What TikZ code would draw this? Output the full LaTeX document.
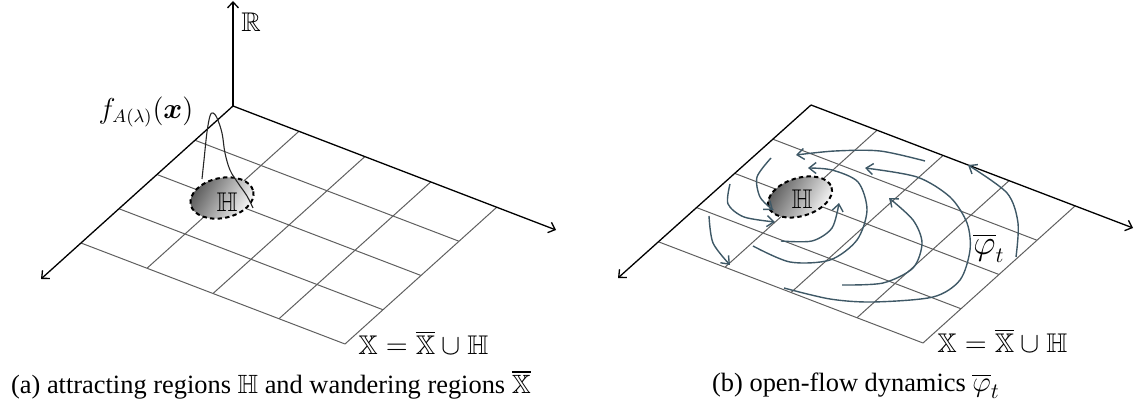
\documentclass[tikz,border=0pt]{standalone}
\usepackage{amsmath,amssymb,bm}
\usepackage{fontspec}
\setmainfont{Liberation Serif}
\usetikzlibrary{arrows.meta,calc}
\definecolor{flowc}{RGB}{62,88,102}
\definecolor{gridc}{RGB}{95,95,95}
\begin{document}
\begin{tikzpicture}[x=0.5pt,y=-0.5pt,
  axisline/.style={draw=black, line width=0.65pt, -{Straight Barb[length=3pt,width=5.5pt]}},
  gridline/.style={draw=gridc, line width=0.5pt},
  flow/.style={draw=flowc, line width=0.7pt, -{Straight Barb[length=3.5pt,width=5.5pt]}},
  hole/.style={draw=black, line width=1pt, dash pattern=on 2.2pt off 1.6pt, top color=black!65, bottom color=white, shading angle=60},
  lbl/.style={inner sep=0pt, font=\fontsize{13.5}{16}\selectfont},
  biglbl/.style={inner sep=0pt, font=\fontsize{16}{18}\selectfont},
  captext/.style={inner sep=0pt, font=\fontsize{13.2}{16}\selectfont},
  peak/.style={draw=black!85, line width=0.55pt}
]
\useasboundingbox (0,0) rectangle (1140,405);

% ---------- left panel ----------
\coordinate (OL) at (233,106);
\coordinate (RtipL) at (556,230);
\coordinate (LtipL) at (41,279);
\coordinate (UtipL) at (233,1);
\foreach \i in {1,...,4}{
  \draw[gridline] ($(OL)+\i*(66,25.25)$) -- ($(OL)+\i*(66,25.25)+4*(-38,34.25)$);
  \draw[gridline] ($(OL)+\i*(-38,34.25)$) -- ($(OL)+\i*(-38,34.25)+4*(66,25.25)$);
}
\draw[axisline] (OL) -- (UtipL);
\draw[axisline] (OL) -- (RtipL);
\draw[axisline] (OL) -- (LtipL);
\node[lbl] (Rlab) at (251,22) {$\mathbb{R}$};

\coordinate (EL) at (222,198);
\path[hole, rotate around={12:(EL)}] (EL) ellipse [x radius=32, y radius=20];
\draw[peak] plot[smooth, tension=0.6] coordinates {(202,179) (204,160) (207,132) (210,116) (213,113) (217,118) (222,133) (225,153) (230,170) (238,183) (247,196) (253,208)};
\node[lbl] (HL) at (227,202) {$\mathbb{H}$};
\node[lbl] (fL) at (146,112) {$f_{A(\lambda)}(\bm{x})$};
\node[lbl, anchor=west] (XL) at (358,343) {$\mathbb{X}=\overline{\mathbb{X}}\cup\mathbb{H}$};
\node[captext] (capA) at (271,385) {(a) attracting regions $\mathbb{H}$ and wandering regions $\overline{\mathbb{X}}$};

% ---------- right panel ----------
\coordinate (OR) at (811,105);
\coordinate (RtipR) at (1133,228);
\coordinate (LtipR) at (618,278);
\foreach \i in {1,...,4}{
  \draw[gridline] ($(OR)+\i*(66,25.25)$) -- ($(OR)+\i*(66,25.25)+4*(-38,34.25)$);
  \draw[gridline] ($(OR)+\i*(-38,34.25)$) -- ($(OR)+\i*(-38,34.25)+4*(66,25.25)$);
}
\draw[axisline] (OR) -- (RtipR);
\draw[axisline] (OR) -- (LtipR);

\coordinate (ER) at (800,197);
\path[hole, rotate around={17:(ER)}] (ER) ellipse [x radius=33, y radius=19];
\node[lbl] (HR) at (802,199) {$\mathbb{H}$};

% flow lines
\draw[flow] plot[smooth] coordinates {(771,158) (757,177) (760,197) (773,210)};
\draw[flow] plot[smooth] coordinates {(730,184) (728,204) (744,217) (775,222)};
\draw[flow] plot[smooth] coordinates {(709,216) (713,243) (730,265)};
\draw[flow] plot[smooth] coordinates {(781,241) (812,241) (832,228) (839,203)};
\draw[flow] plot[smooth] coordinates {(753,246) (790,262) (830,260) (857,240) (867,210) (858,182) (832,170) (808,168)};
\draw[flow] plot[smooth] coordinates {(925,161) (880,151) (835,151) (796,155)};
\draw[flow] plot[smooth] coordinates {(784,288) (830,299) (873,302) (933,297) (960,280) (970,250) (967,223) (950,197) (917,177) (865,168)};
\draw[flow] plot[smooth] coordinates {(842,285) (883,283) (913,268) (922,243) (913,220) (889,198)};
\draw[flow] plot[smooth] coordinates {(1016,257) (1018,223) (1007,193) (968,165)};

\node[biglbl] (phi) at (989,248) {$\overline{\varphi}_t$};
\node[lbl, anchor=west] (XR) at (937,341) {$\mathbb{X}=\overline{\mathbb{X}}\cup\mathbb{H}$};
\node[captext] (capB) at (856,386) {(b) open-flow dynamics {\fontsize{15}{16}\selectfont$\overline{\varphi}_t$}};
\end{tikzpicture}
\end{document}
